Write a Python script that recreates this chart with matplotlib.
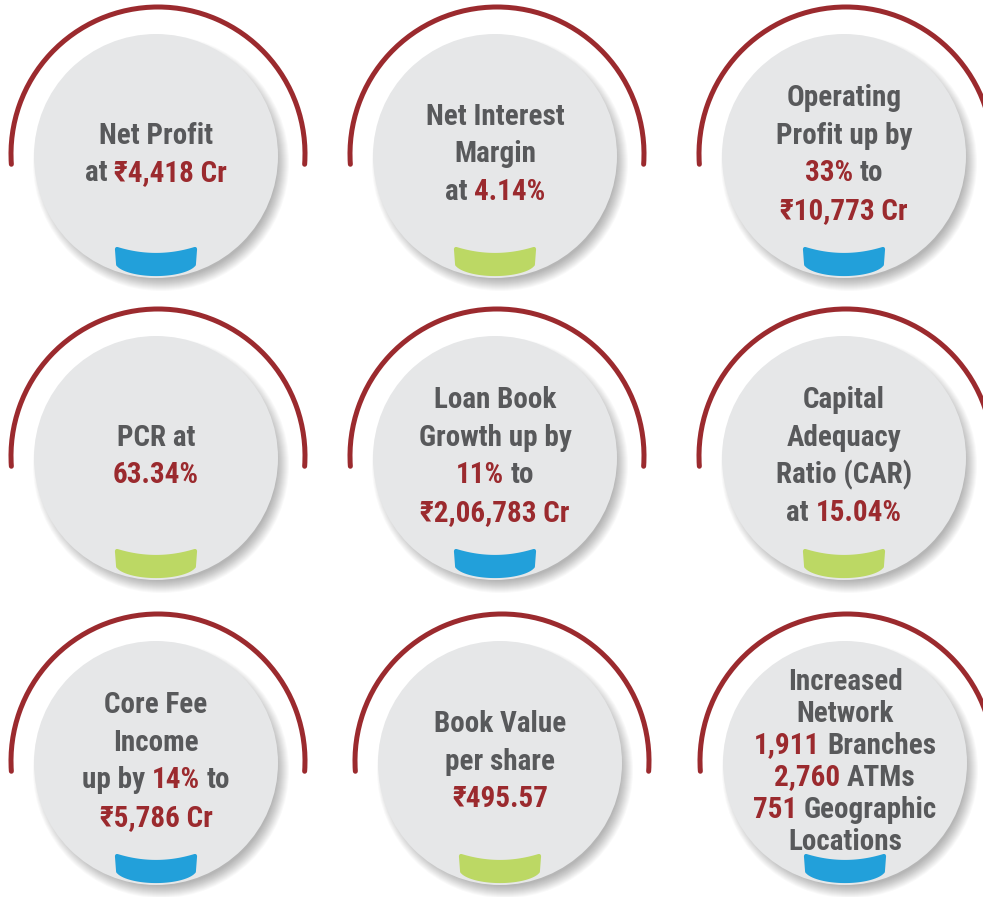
import numpy as np
import matplotlib
matplotlib.use('Agg')
import matplotlib.pyplot as plt
from matplotlib.patches import Circle, Arc, Polygon
from matplotlib.font_manager import FontProperties
from matplotlib import font_manager as fm

# text inside each circle, *...* marks the red highlighted part
metric_lines = [
    ["Net Profit", "at *₹4,418 Cr*"],
    ["Net Interest", "Margin", "at *4.14%*"],
    ["Operating", "Profit up by", "*33%* to", "*₹10,773 Cr*"],
    ["PCR at", "*63.34%*"],
    ["Loan Book", "Growth up by", "*11%* to", "*₹2,06,783 Cr*"],
    ["Capital", "Adequacy", "Ratio (CAR)", "at *15.04%*"],
    ["Core Fee", "Income", "up by *14%* to", "*₹5,786 Cr*"],
    ["Book Value", "per share", "*₹495.57*"],
    ["Increased", "Network", "*1,911* Branches", "*2,760* ATMs",
     "*751* Geographic", "Locations"],
]
tab_kind = ['blue', 'green', 'blue',
            'green', 'blue', 'green',
            'blue', 'green', 'blue']

centers = [(156, 156), (495, 156), (844, 156),
           (156, 458), (495, 458), (844, 458),
           (156, 763), (500, 763), (845, 763)]

RED = '#9b2a2e'
GRAY = '#58595b'
FILL = '#e6e7e8'
TAB = {'blue': '#22a0da', 'green': '#bcd864'}
R = 122
R_ARC = 147

# look for a narrow / condensed face, the original uses a condensed sans
condensed = ('condensed', 'semi-condensed', 'extra-condensed', 'ultra-condensed')
found = {}
for f in fm.fontManager.ttflist:
    if 'Narrow' in f.name or 'Condensed' in f.name or f.stretch in condensed:
        found.setdefault(f.name, f.stretch)
main_font, stretch = 'Liberation Sans', 'normal'
for pref in ['Roboto Condensed', 'Open Sans Condensed', 'Liberation Sans Narrow',
             'Noto Sans', 'Open Sans', 'Roboto', 'DejaVu Sans']:
    if pref in found:
        main_font, stretch = pref, found[pref]
        break
else:
    if found:
        main_font, stretch = sorted(found.items())[0]

FS = 21 if main_font != 'Liberation Sans' else 18
fp = FontProperties(family=[main_font, 'Noto Sans', 'DejaVu Sans'], weight='bold',
                    stretch=stretch, size=FS)

fig = plt.figure(figsize=(9.83, 8.97), dpi=100)
ax = fig.add_axes([0, 0, 1, 1])
ax.set_xlim(0, 983)
ax.set_ylim(897, 0)
ax.axis('off')
renderer = fig.canvas.get_renderer()


def text_width(s):
    t = ax.text(0, 0, s, fontproperties=fp)
    w = t.get_window_extent(renderer).width
    t.remove()
    return w


space_w = text_width('a a') - text_width('aa')

for (cx, cy), lines, kind in zip(centers, metric_lines, tab_kind):
    # soft shadow, mostly to the lower right
    for k in range(12, -1, -1):
        ax.add_patch(Circle((cx + 5, cy + 7), R - 6 + k, fc='black', ec='none', alpha=0.022, zorder=1))
    ax.add_patch(Circle((cx, cy), R, fc=FILL, ec='none', zorder=2))

    # red arc over the top (y axis is inverted, so angles run the other way)
    ax.add_patch(Arc((cx + 2, cy - 2), 2 * R_ARC, 2 * R_ARC, theta1=176, theta2=364,
                     color=RED, lw=3.6, capstyle='round', zorder=3))

    # tab at the bottom
    u = np.linspace(-1, 1, 40)
    w = 39
    top = np.column_stack([cx + w * u, cy + 93 + 6 * (1 - u ** 2)])
    ub = u[::-1] * 0.97
    bot = np.column_stack([cx + w * ub, cy + 106 + 12 * (1 - ub ** 2) ** 0.55])
    ax.add_patch(Polygon(np.vstack([top, bot]), closed=True, fc=TAB[kind], ec=TAB[kind],
                         lw=3, joinstyle='round', zorder=4))

    # text block
    n = len(lines)
    step = 32 if n > 4 else 37.5
    b0 = cy - 4 + 10.5 - (n - 1) * step / 2
    for i, line in enumerate(lines):
        parts = line.split('*')
        segs = [(p.strip(), RED if j % 2 else GRAY) for j, p in enumerate(parts) if p.strip()]
        widths = [text_width(s) for s, _ in segs]
        total = sum(widths) + space_w * (len(segs) - 1)
        x = cx - total / 2
        y = b0 + i * step
        for (s, col), wd in zip(segs, widths):
            ax.text(x, y, s, fontproperties=fp, color=col, ha='left', va='baseline', zorder=5)
            x += wd + space_w

fig.savefig('out.png', dpi=100, facecolor='white')
